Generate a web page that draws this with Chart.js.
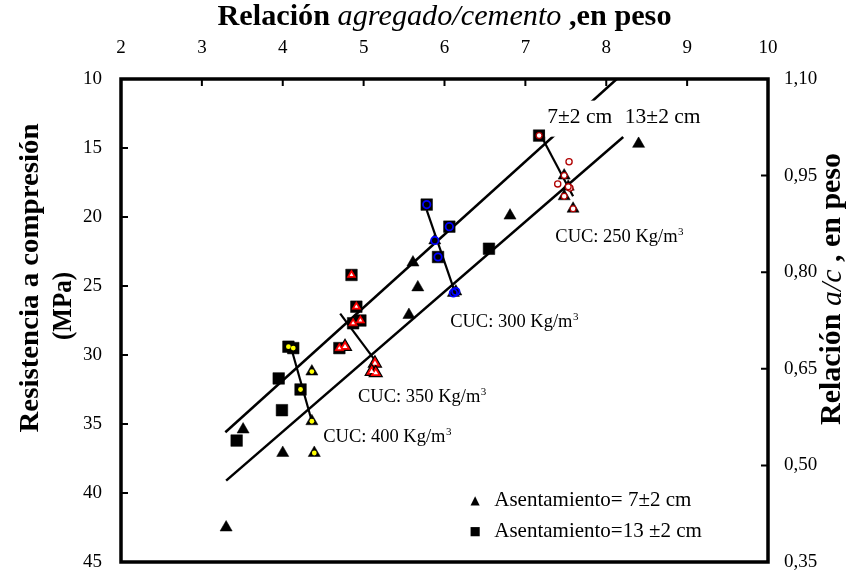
<!DOCTYPE html>
<html><head><meta charset="utf-8">
<script src="https://cdn.jsdelivr.net/npm/chart.js@4/dist/chart.umd.min.js"></script>
<style>html,body{margin:0;padding:0;background:#fff;} #c{display:block;}</style>
</head><body>
<canvas id="c" width="868" height="575"></canvas>
<script>
// ---- axis ticks ----
const xTicks = [2,3,4,5,6,7,8,9,10];
const yTicks = [10,15,20,25,30,35,40,45];
const y2Ticks = [0.35,0.50,0.65,0.80,0.95,1.10];

// ---- Asentamiento 7±2 cm (triangles) / 13±2 cm (squares), [agregado/cemento, MPa] ----
const tri7Plain = [[3.30,42.5],[3.51,35.4],[4.00,37.1],[5.56,27.1],[5.61,23.3],[5.67,25.1],[6.81,19.9],[8.40,14.7]];
const sq13Plain = [[3.43,36.2],[3.95,31.7],[3.99,34.0],[6.55,22.3]];
// CUC 400
const cuc400Sq = [[4.07,29.4],[4.13,29.5],[4.22,32.5]];
const cuc400Tri = [[4.36,31.2],[4.36,34.8],[4.39,37.1]];
// CUC 350
const cuc350Sq = [[4.85,24.2],[4.91,26.5],[4.87,27.7],[4.96,27.5],[4.70,29.5]];
const cuc350Tri = [[4.77,29.4],[5.14,30.6],[5.10,31.2],[5.15,31.3]];
// CUC 300
const cuc300Sq = [[5.78,19.1],[6.06,20.7],[5.92,22.9]];
const cuc300Tri = [[5.88,21.7],[6.11,25.5],[6.14,25.4]];
// CUC 250
const cuc250Sq = [[7.17,14.1]];
const cuc250Tri = [[7.48,17.0],[7.53,17.8],[7.48,18.5],[7.59,19.4]];
const cuc250Open = [[7.54,16.0],[7.40,17.6],[7.55,17.9]];
// trend lines
const line7 = [[3.29,35.6],[8.13,10.0]];
const line13 = [[3.30,39.1],[8.21,14.2]];
const cucLine400 = [[4.10,29.4],[4.36,34.8]];
const cucLine350 = [[4.71,27.0],[5.13,30.3]];
const cucLine300 = [[5.78,19.5],[6.12,25.3]];
const cucLine250 = [[7.21,14.3],[7.59,18.5]];

// ---- labels ----
const cucLabels = [
  {text:'CUC: 250 Kg/m', x:7.37, y:21.8},
  {text:'CUC: 300 Kg/m', x:6.07, y:28.0},
  {text:'CUC: 350 Kg/m', x:4.93, y:33.4},
  {text:'CUC: 400 Kg/m', x:4.50, y:36.3}
];
const slumpLabels = [
  {text:'7±2 cm', x:7.27, y:12.8},
  {text:'13±2 cm', x:8.23, y:12.8}
];
const legendItems = [
  {glyph:'▲', text:'Asentamiento= 7±2 cm'},
  {glyph:'■', text:'Asentamiento=13 ±2 cm'}
];

const SERIF = '"Liberation Serif","Times New Roman",Times,serif';
function pts(a){ return a.map(p => ({x:p[0], y:p[1]})); }
function mk(data, style, r, fill, stroke, bw, order){
  return {data:pts(data), pointStyle:style, pointRadius:r, pointHoverRadius:r,
    backgroundColor:fill, borderColor:stroke, borderWidth:bw, order:order, showLine:false};
}
function ln(data, w){
  return {data:pts(data), showLine:true, pointRadius:0, pointHoverRadius:0,
    borderColor:'#000', borderWidth:w, order:9, fill:false};
}

const datasets = [
  ln(line7, 2.5), ln(line13, 2.5),
  ln(cucLine400, 2.2), ln(cucLine350, 2.2), ln(cucLine300, 2.2), ln(cucLine250, 2.2),
  // base markers
  mk(tri7Plain,'triangle',7,'#000','#000',0.5,5),
  mk(sq13Plain,'rect',8.2,'#000','#000',0.5,5),
  mk(cuc400Sq,'rect',8.2,'#000','#000',0.5,5),
  mk(cuc400Tri,'triangle',7,'#000','#000',0.5,5),
  mk(cuc350Sq,'rect',8.2,'#000','#000',0.5,5),
  mk(cuc300Sq,'rect',8.2,'#000','#000',0.5,5),
  mk(cuc300Tri,'triangle',7,'#000','#000',0.5,5),
  mk(cuc250Sq,'rect',8.2,'#000','#000',0.5,5),
  mk(cuc250Tri,'triangle',7,'#000','#000',0.5,5),
  // overlays
  mk(cuc400Sq,'circle',2.4,'#ffff00','#ffff00',0,1),
  mk(cuc400Tri,'circle',2.4,'#ffff00','#ffff00',0,1),
  mk(cuc350Sq,'triangle',5.2,'#ff0000','#ff0000',0.5,2),
  mk(cuc350Sq,'triangle',2.2,'#ffffff','#ffffff',0,1),
  mk(cuc350Tri,'triangle',7.5,'#ff0000','#000',1.2,2),
  mk(cuc350Tri,'triangle',2.8,'#ffffff','#ffffff',0,1),
  mk(cuc300Sq,'circle',3.7,'rgba(0,0,0,0)','#0000ff',1.8,1),
  mk(cuc300Tri,'circle',3.7,'rgba(0,0,0,0)','#0000ff',1.8,1),
  mk(cuc250Sq,'circle',2.9,'#ffffff','#b00000',1.3,1),
  mk(cuc250Tri,'circle',2.9,'#ffffff','#b00000',1.3,1),
  mk(cuc250Open,'circle',3.1,'#ffffff','#b00000',1.3,1)
];

function drawParts(ctx, parts, size, cx, cy, rot, targetLen){
  ctx.save();
  ctx.translate(cx, cy); ctx.rotate(rot);
  let total = 0;
  parts.forEach(p => { ctx.font = p.s + ' ' + size + 'px ' + SERIF; p.w = ctx.measureText(p.t).width; total += p.w; });
  const sx = targetLen ? targetLen/total : 1;
  ctx.scale(sx, 1);
  ctx.textBaseline = 'middle'; ctx.textAlign = 'left'; ctx.fillStyle = '#000';
  let x = -total/2;
  parts.forEach(p => { ctx.font = p.s + ' ' + size + 'px ' + SERIF; ctx.fillText(p.t, x, 0); x += p.w; });
  ctx.restore();
}

const deco = {
  id:'deco',
  afterDatasetsDraw(chart){
    const ctx = chart.ctx, a = chart.chartArea;
    const sx = chart.scales.x, sy = chart.scales.y, sy2 = chart.scales.y2;
    ctx.save();
    // inner tick marks
    ctx.strokeStyle = '#000'; ctx.lineWidth = 2;
    ctx.beginPath();
    xTicks.slice(1,-1).forEach(v => { const p = sx.getPixelForValue(v); ctx.moveTo(p, a.top); ctx.lineTo(p, a.top+7); });
    yTicks.slice(1,-1).forEach(v => { const p = sy.getPixelForValue(v); ctx.moveTo(a.left, p); ctx.lineTo(a.left+7, p); });
    y2Ticks.slice(1,-1).forEach(v => { const p = sy2.getPixelForValue(v); ctx.moveTo(a.right, p); ctx.lineTo(a.right-7, p); });
    ctx.stroke();
    // frame
    ctx.lineWidth = 3.5;
    ctx.strokeRect(a.left, a.top, a.right-a.left, a.bottom-a.top);

    // slump labels with white box
    ctx.font = '21.5px ' + SERIF; ctx.textBaseline = 'middle'; ctx.textAlign = 'left';
    slumpLabels.forEach(l => {
      const px = sx.getPixelForValue(l.x), py = sy.getPixelForValue(l.y);
      const w = ctx.measureText(l.text).width;
      ctx.fillStyle = '#fff'; ctx.fillRect(px-2, py-17, w+4, 36);
      ctx.fillStyle = '#000'; ctx.fillText(l.text, px, py);
    });
    // CUC labels
    cucLabels.forEach(l => {
      const px = sx.getPixelForValue(l.x), py = sy.getPixelForValue(l.y);
      ctx.font = '18.5px ' + SERIF; ctx.textBaseline = 'alphabetic';
      ctx.fillStyle = '#000'; ctx.fillText(l.text, px, py);
      const w = ctx.measureText(l.text).width;
      ctx.font = '11px ' + SERIF; ctx.fillText('3', px + w + 0.5, py - 7);
    });
    // legend
    legendItems.forEach((it, i) => {
      const gx = sx.getPixelForValue(6.38), ty = sy.getPixelForValue(40.55 + i*2.25);
      ctx.fillStyle = '#000'; ctx.textBaseline = 'middle';
      ctx.font = '12px "DejaVu Sans"'; ctx.textAlign = 'center';
      ctx.fillText(it.glyph, gx, ty);
      ctx.font = '21px ' + SERIF; ctx.textAlign = 'left';
      ctx.fillText(it.text, gx + 19, ty);
    });
    ctx.restore();
  },
  afterDraw(chart){
    const ctx = chart.ctx, a = chart.chartArea;
    drawParts(ctx, [{t:'Relación ', s:'bold'}, {t:'agregado/cemento', s:'italic'}, {t:' ,en peso', s:'bold'}],
      30, (a.left+a.right)/2, 17, 0, 454);
    drawParts(ctx, [{t:'Resistencia a compresión', s:'bold'}], 28, 31, 278, -Math.PI/2, 309);
    drawParts(ctx, [{t:'(MPa)', s:'bold'}], 28, 64, 306, -Math.PI/2, 68);
    drawParts(ctx, [{t:'Relación ', s:'bold'}, {t:'a/c', s:'italic'}, {t:' , en peso', s:'bold'}],
      29, 833, 289, -Math.PI/2, 272);
  }
};

function noPad(s){ s.paddingTop = 0; s.paddingBottom = 0; s.paddingLeft = 0; s.paddingRight = 0; }
const tickFont = {family: SERIF, size: 19};
new Chart(document.getElementById('c'), {
  type:'scatter',
  data:{datasets},
  options:{
    responsive:false, animation:false, devicePixelRatio:1,
    layout:{padding:{top:0,left:0,right:0,bottom:13}},
    plugins:{legend:{display:false}, tooltip:{enabled:false}},
    scales:{
      x:{type:'linear', position:'top', min:2, max:10,
        afterBuildTicks(s){ s.ticks = xTicks.map(v => ({value:v})); },
        afterFit(s){ s.height = 79; noPad(s); },
        ticks:{font:tickFont, color:'#000', padding:20, maxRotation:0, autoSkip:false},
        grid:{display:false, drawTicks:false}, border:{display:false}},
      y:{type:'linear', position:'left', min:10, max:45, reverse:true,
        afterBuildTicks(s){ s.ticks = yTicks.map(v => ({value:v})); },
        afterFit(s){ s.width = 121; noPad(s); },
        ticks:{font:tickFont, color:'#000', padding:19, autoSkip:false},
        grid:{display:false, drawTicks:false}, border:{display:false}},
      y2:{type:'linear', position:'right', min:0.35, max:1.10,
        afterBuildTicks(s){ s.ticks = y2Ticks.map(v => ({value:v})); },
        afterFit(s){ s.width = 100; noPad(s); },
        ticks:{font:tickFont, color:'#000', padding:16, autoSkip:false,
          callback:(v) => Number(v).toFixed(2).replace('.', ',')},
        grid:{display:false, drawTicks:false}, border:{display:false}}
    }
  },
  plugins:[deco]
});
</script>
</body></html>
